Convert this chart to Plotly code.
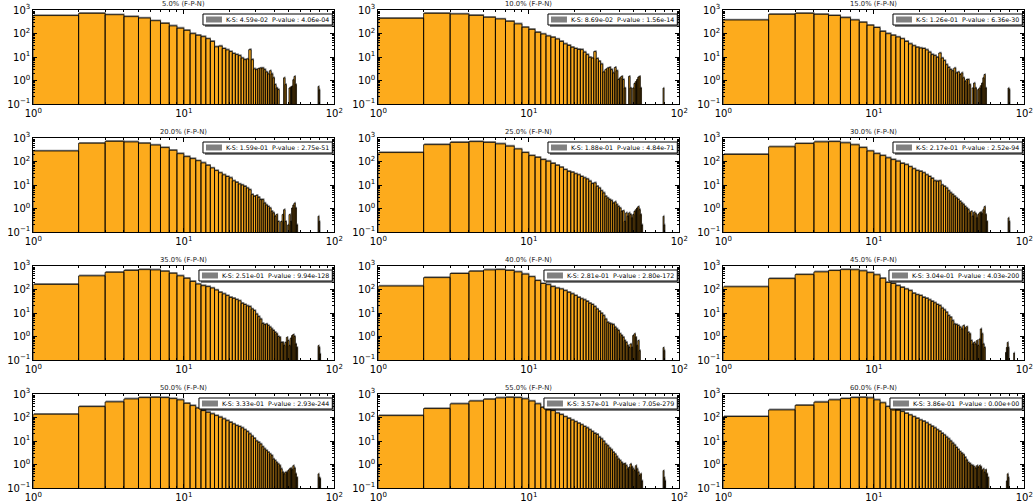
import plotly.graph_objects as go

# ---------------- data ----------------
titles = ["5.0% (F-P-N)", "10.0% (F-P-N)", "15.0% (F-P-N)",
          "20.0% (F-P-N)", "25.0% (F-P-N)", "30.0% (F-P-N)",
          "35.0% (F-P-N)", "40.0% (F-P-N)", "45.0% (F-P-N)",
          "50.0% (F-P-N)", "55.0% (F-P-N)", "60.0% (F-P-N)"]
ks_stats = ["4.59e-02", "8.69e-02", "1.26e-01", "1.59e-01", "1.88e-01", "2.17e-01",
            "2.51e-01", "2.81e-01", "3.04e-01", "3.33e-01", "3.57e-01", "3.86e-01"]
p_values = ["4.06e-04", "1.56e-14", "6.36e-30", "2.75e-51", "4.84e-71", "2.52e-94",
            "9.94e-128", "2.80e-172", "4.03e-200", "2.93e-244", "7.05e-279", "0.00e+00"]

# counts per integer bin [k, k+1), k = 1, 2, 3, ...
counts_05 = [580, 720, 630, 520, 455, 350, 270, 210, 168, 136,
             98, 84, 73, 60, 46, 27, 29, 23, 20, 17,
             14, 12.6, 11.4, 9, 7.7, 8.2, 20.5, 7.7, 3.1, 2.9,
             3.2, 3.4, 3.4, 2.9, 2.3, 1.9, 2.6, 1.9, 1.3, 0.67,
             0.48, 0.41, 0, 0, 0, 1.3, 0.67, 0, 0, 0.48,
             0.53, 0.56, 1.08, 1.5, 0.67, 0, 0, 0, 0, 0,
             0, 0, 0, 0, 0, 0, 0, 0, 0, 0,
             0, 0, 0, 0, 0, 0, 0, 0.56, 0.4]
counts_10 = [443, 720, 675, 590, 490, 415, 330, 255, 185, 150,
             112, 95, 78, 69, 58, 46, 36, 31, 26, 23,
             21, 20.5, 16, 12.6, 9.7, 9, 17, 8.5, 6.6, 5,
             2.3, 2.9, 3.4, 3.6, 2.9, 2.1, 3.6, 2.6, 1.1, 1.3,
             1.5, 1.1, 0.48, 0, 0, 1.5, 0.48, 0, 0.48, 0.75,
             0.9, 1.1, 1.4, 1.5, 0.48, 0, 0, 0, 0, 0,
             0, 0, 0, 0, 0, 0, 0, 0, 0, 0,
             0, 0, 0, 0, 0, 0, 0, 0.48]
counts_15 = [375, 655, 720, 655, 585, 470, 375, 300, 225, 180,
             123, 98, 84, 71, 60, 46, 36, 30, 26, 24,
             23, 20, 16, 12.6, 11.4, 9.7, 14.8, 9, 7, 4.7,
             3.6, 2.9, 2.6, 3.4, 2.1, 2.3, 1.8, 2.1, 1.3, 0.92,
             1.1, 1.1, 0.67, 0, 0.48, 0.78, 0.48, 0, 0.41, 0.48,
             0.6, 0.78, 1.3, 1.8, 0.48, 0, 0, 0, 0, 0,
             0, 0, 0, 0, 0, 0, 0, 0, 0, 0,
             0, 0, 0, 0, 0, 0, 0, 0.48, 0.41]
counts_20 = [280, 600, 720, 680, 600, 500, 390, 300, 215, 160,
             132, 108, 87, 69, 53, 41, 33, 27, 23, 20,
             15, 13, 11, 10, 8.7, 7.4, 6.3, 3.9, 3.3, 3.6,
             3.0, 2.4, 2.4, 1.7, 1.4, 1.2, 1.05, 0.76, 0.65, 0.47,
             0.55, 0.28, 0, 0.28, 0.55, 0.89, 0.28, 0, 0.2, 0.55,
             0.28, 1.05, 1.4, 1.7, 1.05, 0.2, 0, 0, 0, 0,
             0, 0, 0, 0, 0, 0, 0, 0, 0, 0,
             0, 0, 0, 0, 0, 0, 0, 0.47, 0.28]
counts_25 = [240, 520, 650, 700, 650, 560, 450, 340, 240, 178,
             150, 120, 103, 83, 69, 57, 45, 38, 35, 30,
             27, 23, 20, 18, 14.5, 11.5, 12.3, 8.8, 7.4, 5.7,
             4.6, 3.3, 2.8, 2.4, 2.15, 1.7, 1.9, 1.45, 1.2, 1.05,
             0.76, 0.8, 0.28, 0.65, 0.47, 0.65, 0.55, 0.4, 0.55, 0.76,
             0.89, 1.05, 1.2, 0.89, 0.55, 0.2, 0, 0, 0, 0,
             0, 0, 0, 0, 0, 0, 0, 0, 0, 0,
             0, 0, 0, 0, 0, 0, 0, 0.47, 0.2]
counts_30 = [200, 420, 580, 680, 700, 620, 510, 390, 280, 215,
             178, 142, 120, 103, 83, 73, 60, 49, 41, 38,
             33, 27, 23, 19, 15, 14.5, 15, 10, 8.7, 7.4,
             5.7, 4.6, 3.9, 3.3, 2.8, 2.4, 2.0, 1.7, 1.45, 1.2,
             1.05, 0.89, 0.65, 0.76, 0.47, 0.7, 0.6, 0.4, 0.55, 0.65,
             0.7, 0.6, 0.89, 1.2, 0.55, 0.28, 0, 0, 0, 0,
             0, 0, 0, 0, 0, 0, 0, 0, 0, 0,
             0, 0, 0, 0, 0, 0, 0, 0.4, 0.28]
counts_35 = [165, 380, 540, 650, 700, 680, 600, 490, 380, 300,
             220, 170, 145, 132, 115, 95, 76, 65, 55, 46,
             42, 37, 33, 26, 23, 20, 18.6, 14.8, 12.6, 9,
             7, 5.5, 3.6, 3.2, 3.4, 2.9, 2.5, 2.1, 1.8, 1.5,
             1.3, 1.0, 0.92, 0.56, 0.56, 0.41, 0.56, 0.92, 0.67, 0.41,
             0.86, 1.1, 1.2, 1.0, 0.48, 0.34, 0, 0, 0, 0,
             0, 0, 0, 0, 0, 0, 0, 0, 0, 0,
             0, 0, 0, 0, 0, 0, 0, 0.41, 0.34, 0.18]
counts_40 = [140, 320, 480, 600, 680, 700, 650, 560, 450, 350,
             240, 180, 160, 132, 115, 105, 89, 76, 65, 55,
             46, 40, 36, 31, 26, 23, 18.6, 14.8, 11.8, 9.7,
             7.7, 5.5, 4, 3.6, 3.4, 3.2, 2.5, 2.1, 1.8, 1.3,
             1.1, 0.92, 0.67, 0.56, 0.41, 0.34, 0.48, 0.34, 1.1, 1.3,
             0.92, 0.41, 0.67, 0.25, 0, 0, 0, 0, 0, 0,
             0, 0, 0, 0, 0, 0, 0, 0, 0, 0,
             0, 0, 0, 0, 0, 0, 0, 0.34, 0.25]
counts_45 = [130, 290, 430, 560, 640, 700, 690, 620, 520, 420,
             300, 200, 180, 145, 123, 105, 89, 69, 60, 55,
             46, 42, 36, 31, 27, 23, 20.5, 16, 13.5, 10.7,
             7.7, 6.6, 4.7, 3.4, 3.2, 2.9, 2.5, 2.1, 2.9, 2.3,
             2.6, 1.5, 1.3, 0.67, 0.48, 0.56, 0.48, 0.67, 0.41, 0.78,
             2.1, 1.3, 0.48, 0.34, 0, 0, 0, 0, 0, 0,
             0, 0, 0, 0, 0, 0, 0, 0, 0, 0,
             0, 0, 0, 0, 0.21, 0.34, 0.56, 0.34, 0, 0,
             0, 0, 0, 0, 0.2]
counts_50 = [138, 290, 460, 615, 700, 720, 700, 635, 560, 400,
             320, 253, 196, 166, 142, 120, 103, 87, 73, 62,
             53, 45, 41, 36, 30, 25, 20, 16, 13, 10,
             8.7, 7.4, 5.7, 4.6, 3.9, 3.3, 2.8, 2.4, 1.7, 1.45,
             1.2, 1.05, 0.89, 0.65, 0.47, 0.4, 0.47, 0.45, 0.55, 0.65,
             0.7, 0.6, 0.89, 0.7, 0.4, 0.28, 0, 0, 0, 0,
             0, 0, 0, 0, 0, 0, 0, 0, 0, 0,
             0, 0, 0, 0, 0, 0, 0, 0.4, 0.28, 0.25]
counts_55 = [120, 240, 380, 500, 600, 680, 720, 700, 620, 500,
             380, 270, 223, 196, 155, 132, 108, 92, 78, 66,
             57, 49, 41, 36, 30, 25, 21, 19, 14.5, 12.3,
             9.7, 7.4, 6.3, 5, 4.2, 3.3, 2.8, 2.15, 1.7, 1.45,
             1.2, 1.05, 1.1, 0.89, 0.65, 0.76, 1.05, 0.8, 0.65, 0.55,
             0.89, 0.65, 0.47, 0.34, 0.4, 0.2, 0, 0, 0, 0,
             0, 0, 0, 0, 0, 0, 0, 0, 0, 0,
             0, 0, 0, 0, 0, 0, 0, 0.55, 0.28, 0.2]
counts_60 = [110, 210, 330, 450, 560, 640, 700, 720, 680, 560,
             420, 290, 253, 210, 178, 150, 128, 108, 92, 78,
             69, 59, 49, 42, 36, 30, 26, 21, 18, 14.5,
             12.3, 10, 8.1, 6.7, 5.3, 4.3, 3.5, 3.0, 2.6, 2.0,
             1.55, 1.2, 1.1, 0.95, 0.89, 0.8, 0.7, 0.89, 0.76, 0.89,
             0.8, 0.55, 0.65, 0.47, 0.6, 0.4, 0.28, 0, 0, 0,
             0, 0, 0, 0, 0, 0, 0, 0, 0, 0,
             0, 0, 0, 0, 0, 0.2, 0.4, 0.28]

all_counts = [counts_05, counts_10, counts_15, counts_20, counts_25, counts_30,
              counts_35, counts_40, counts_45, counts_50, counts_55, counts_60]

x_tickvals = [1, 10, 100]
x_ticktext = ["10<sup>0</sup>", "10<sup>1</sup>", "10<sup>2</sup>"]
y_tickvals = [0.1, 1, 10, 100, 1000]
y_ticktext = ["10<sup>\u22121</sup>", "10<sup>0</sup>", "10<sup>1</sup>", "10<sup>2</sup>", "10<sup>3</sup>"]

# ---------------- styling / layout ----------------
FIG_W, FIG_H = 1034, 503
COL_X0 = [33.3, 378.3, 723.3]
ROW_Y0 = [10, 138, 266, 394]
PW, PH = 301.0, 94.0
BOTTOM = 1e-3
ORANGE = "#FDAB1C"
SHADOW = "#8a8a8a"
SH_X, SH_Y = 1.010, 1.14
FONT = "DejaVu Sans"
LEG_FS = 6.3
TITLE_FS = 6.8

CW = {"0": .636, "1": .636, "2": .636, "3": .636, "4": .636, "5": .636, "6": .636,
      "7": .636, "8": .636, "9": .636, ".": .318, "-": .361, ":": .337, " ": .318,
      "\u00a0": .318, "K": .656, "S": .635, "P": .603, "v": .592, "a": .613,
      "l": .278, "u": .634, "e": .615, "+": .838}


def text_width(s, fs):
    return sum(CW.get(ch, 0.6) for ch in s) * fs


fig = go.Figure()
shapes, annotations = [], []

for i, counts in enumerate(all_counts):
    r, c = divmod(i, 3)
    n = i + 1
    sfx = "" if n == 1 else str(n)
    xs, ys, sx, sy = [], [], [], []
    for k, v in enumerate(counts, start=1):
        if v and v > 0:
            xs += [k, k, k + 1, k + 1, k, None]
            ys += [BOTTOM, v, v, BOTTOM, BOTTOM, None]
            sx += [k * SH_X, k * SH_X, (k + 1) * SH_X, (k + 1) * SH_X, k * SH_X, None]
            sy += [BOTTOM, v * SH_Y, v * SH_Y, BOTTOM, BOTTOM, None]
    fig.add_trace(go.Scatter(x=sx, y=sy, xaxis="x" + sfx, yaxis="y" + sfx,
                             mode="lines", fill="toself", fillcolor=SHADOW,
                             line=dict(width=0, color=SHADOW), showlegend=False,
                             hoverinfo="skip"))
    fig.add_trace(go.Scatter(x=xs, y=ys, xaxis="x" + sfx, yaxis="y" + sfx,
                             mode="lines", fill="toself", fillcolor=ORANGE,
                             line=dict(width=0.8, color="black"), showlegend=False,
                             hoverinfo="skip"))

    x0 = COL_X0[c] / FIG_W
    x1 = (COL_X0[c] + PW) / FIG_W
    ytop = 1 - ROW_Y0[r] / FIG_H
    ybot = 1 - (ROW_Y0[r] + PH) / FIG_H
    common = dict(type="log", showgrid=False, zeroline=False, showline=True,
                  automargin=False,
                  linecolor="black", linewidth=1, mirror="allticks",
                  ticks="inside", ticklen=4, tickwidth=1, tickcolor="black",
                  tickfont=dict(family=FONT, size=10, color="black"),
                  minor=dict(ticks="inside", ticklen=2, tickwidth=1,
                             tickcolor="black", dtick="D1", showgrid=False))
    fig.update_layout(**{
        "xaxis" + sfx: dict(common, domain=[x0, x1], range=[0, 2],
                            anchor="y" + sfx, tickvals=x_tickvals,
                            ticktext=x_ticktext),
        "yaxis" + sfx: dict(common, domain=[ybot, ytop], range=[-1, 3],
                            anchor="x" + sfx, tickvals=y_tickvals,
                            ticktext=y_ticktext),
    })

    xref, yref = "x" + sfx + " domain", "y" + sfx + " domain"
    # title
    annotations.append(dict(text=titles[i], xref=xref, yref=yref, x=0.5,
                            y=1 + 6.0 / PH, xanchor="center", yanchor="middle",
                            showarrow=False,
                            font=dict(family=FONT, size=TITLE_FS, color="#222222")))
    # legend-like box
    label = "K-S: " + ks_stats[i] + "\u00a0\u00a0P-value : " + p_values[i]
    tw = text_width(label, LEG_FS)
    box_r = PW - 2
    txt_r = box_r - 2
    txt_l = txt_r - tw
    box_l = txt_l - 23
    top, bot = 4.0, 15.0

    def dx(p):
        return p / PW

    def dy(p):
        return 1 - p / PH

    shapes.append(dict(type="rect", xref=xref, yref=yref, x0=dx(box_l + 2),
                       x1=dx(box_r + 2), y0=dy(bot + 2), y1=dy(top + 2),
                       fillcolor="rgba(0,0,0,0.5)", line=dict(width=0),
                       layer="above"))
    shapes.append(dict(type="rect", xref=xref, yref=yref, x0=dx(box_l),
                       x1=dx(box_r), y0=dy(bot), y1=dy(top),
                       fillcolor="white", line=dict(width=1, color="black"),
                       layer="above"))
    shapes.append(dict(type="rect", xref=xref, yref=yref, x0=dx(txt_l - 20),
                       x1=dx(txt_l - 4), y0=dy(12.5), y1=dy(6.5),
                       fillcolor="#808080", line=dict(width=0),
                       layer="above"))
    annotations.append(dict(text=label, xref=xref, yref=yref, x=dx(txt_r),
                            y=dy((top + bot) / 2), xanchor="right",
                            yanchor="middle", showarrow=False, borderpad=0,
                            font=dict(family=FONT, size=LEG_FS, color="black")))

fig.update_layout(width=FIG_W, height=FIG_H, margin=dict(l=0, r=0, t=0, b=0),
                  paper_bgcolor="white", plot_bgcolor="white",
                  shapes=shapes, annotations=annotations, showlegend=False,
                  font=dict(family=FONT))

fig.write_html("out.html")
